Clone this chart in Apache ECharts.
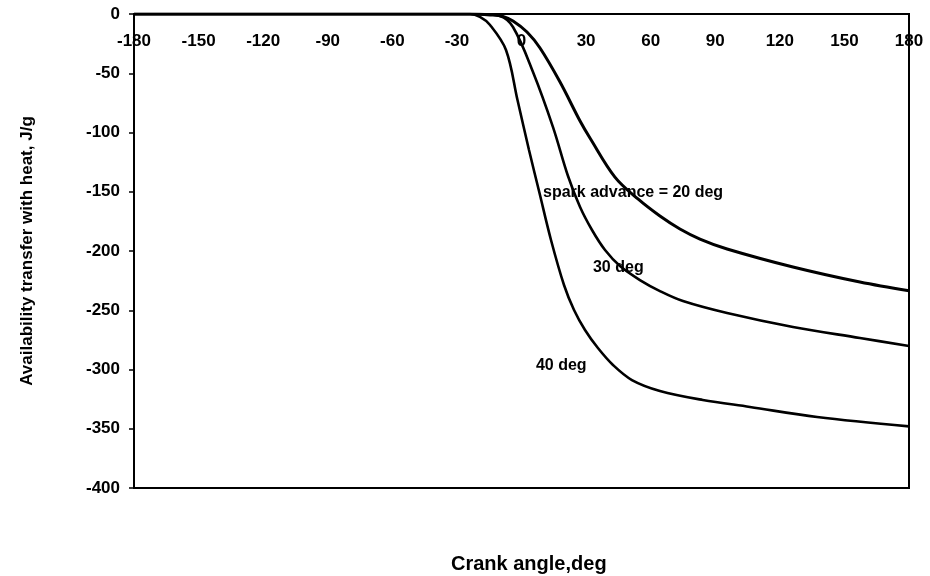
<!DOCTYPE html>
<html>
<head>
<meta charset="utf-8">
<script src="https://cdn.jsdelivr.net/npm/echarts@6/dist/echarts.min.js"></script>
<style>
  html, body { margin: 0; padding: 0; background: #fff; }
  #chart { width: 930px; height: 576px; }
</style>
</head>
<body>
<div id="chart"></div>
<script>
// Crank angle (deg) and heat-transfer availability (J/g) for three spark advances
const angle20 = [-180, -90, -40, -23.9, -14.6, -8.6, -3.95, 2.55, 8.6, 17.9, 27.2, 31.8, 43.4, 54.1, 64.3, 73.6, 82.9, 95.5, 126.1, 157.2, 180];
const avail20 = [0, 0, 0, 0, -0.8, -2.1, -5.9, -15.2, -28.7, -57.4, -90.3, -104.6, -137.6, -156.1, -170.5, -181.4, -189.9, -198.3, -213.5, -226.2, -233.6];

const angle30 = [-180, -90, -40, -19.3, -10.0, -3.95, 5.34, 14.63, 21.6, 27.2, 32.75, 38.8, 45.75, 55.0, 64.3, 75.0, 95.5, 126.1, 157.2, 180];
const avail30 = [0, 0, 0, 0, -1.7, -11.0, -48.9, -95.4, -136.7, -162.9, -182.3, -199.2, -212.7, -224.5, -233.8, -242.2, -252.3, -264.1, -273.4, -280.2];

const angle40 = [-180, -90, -40, -23.9, -19.3, -14.6, -7.2, -1.86, 3.48, 8.36, 13.7, 19.74, 24.4, 29.5, 35.5, 42.5, 51.3, 64.3, 84.2, 106.1, 137.3, 180];
const avail40 = [0, 0, 0, 0, -2.5, -9.3, -30.4, -72.6, -114.8, -151.1, -190.7, -228.7, -249.8, -266.7, -281.9, -296.2, -308.9, -318.1, -325.7, -331.6, -340.1, -348];

// Curve labels: text and the (angle, value) where each starts
const curveLabels = ['spark advance = 20 deg', '30 deg', '40 deg'];
const labelAt = [[10, -151], [33.2, -214], [6.7, -297]];

const xTickMin = -180, xTickMax = 180, xStep = 30;
const yTickMin = -400, yTickMax = 0, yStep = 50;

const FONT = '"Liberation Sans", Arial, Helvetica, sans-serif';

function pairs(xs, ys) { return xs.map((x, i) => [x, ys[i]]); }

function curve(xs, ys, idx, width) {
  return {
    type: 'line',
    data: pairs(xs, ys),
    smooth: 0.35,
    showSymbol: false,
    lineStyle: { color: '#000', width: width },
    z: 3,
    markPoint: {
      symbol: 'circle',
      symbolSize: 0,
      data: [{ coord: labelAt[idx] }],
      label: {
        show: true,
        formatter: curveLabels[idx],
        position: 'right',
        distance: 0,
        color: '#000',
        fontFamily: FONT,
        fontWeight: 'bold',
        fontSize: 16
      }
    }
  };
}

const chart = echarts.init(document.getElementById('chart'), null, { renderer: 'canvas' });
chart.setOption({
  animation: false,
  backgroundColor: '#fff',
  title: {
    text: 'Crank angle,deg',
    left: 446,
    top: 549,
    textStyle: { fontFamily: FONT, fontWeight: 'bold', fontSize: 20, color: '#000' }
  },
  grid: {
    left: 134, right: 21, top: 14, bottom: 88,
    show: true, borderColor: '#000', borderWidth: 2, backgroundColor: 'transparent'
  },
  xAxis: {
    type: 'value',
    position: 'top',
    min: xTickMin, max: xTickMax, interval: xStep,
    axisLine: { show: true, onZero: false, lineStyle: { color: '#000', width: 2 } },
    axisTick: { show: false },
    splitLine: { show: false },
    axisLabel: {
      inside: true,
      margin: 19,
      color: '#000',
      fontFamily: FONT,
      fontWeight: 'bold',
      fontSize: 17
    }
  },
  yAxis: {
    type: 'value',
    min: yTickMin, max: yTickMax, interval: yStep,
    name: 'Availability transfer with heat, J/g',
    nameLocation: 'middle',
    nameRotate: 90,
    nameGap: 98,
    nameTextStyle: { fontFamily: FONT, fontWeight: 'bold', fontSize: 17, color: '#000' },
    axisLine: { show: true, onZero: false, lineStyle: { color: '#000', width: 2 } },
    axisTick: { show: true, length: 5, lineStyle: { color: '#000', width: 1.5 } },
    splitLine: { show: false },
    axisLabel: {
      margin: 14,
      color: '#000',
      fontFamily: FONT,
      fontWeight: 'bold',
      fontSize: 17
    }
  },
  series: [
    curve(angle20, avail20, 0, 3),
    curve(angle30, avail30, 1, 2.6),
    curve(angle40, avail40, 2, 2.6)
  ]
});
</script>
</body>
</html>
